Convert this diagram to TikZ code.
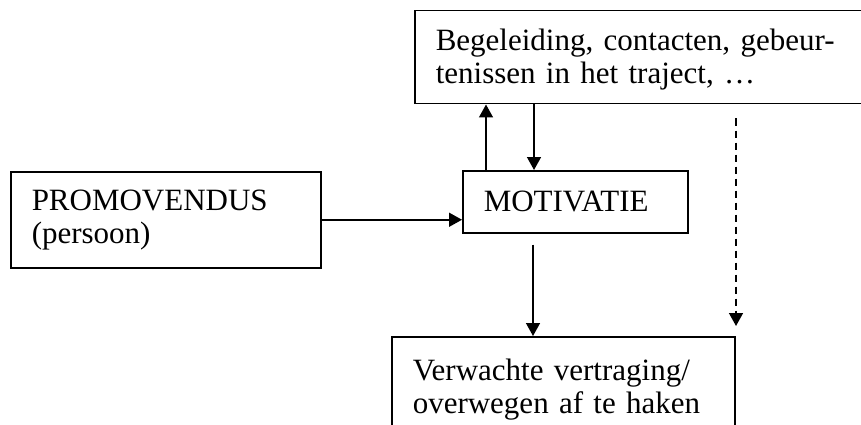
\documentclass[tikz,border=0pt]{standalone}
\usepackage{fontspec}
\setmainfont{Liberation Serif}
\usetikzlibrary{arrows.meta}

\tikzset{
  box/.style={draw, line width=1.5pt, anchor=north west, align=left, inner xsep=21pt,
    font=\fontsize{31}{33}\selectfont},
  arr/.style={line width=1.5pt, -{Triangle[length=13pt,width=14pt]}}
}

\begin{document}
\begin{tikzpicture}[x=1pt,y=-1pt]
  \useasboundingbox (0,0) rectangle (861,425);
  \clip (0,0) rectangle (861,425);

  \node[box, text width=268pt, inner ysep=0pt, minimum height=96pt] (promo) at (10,171)
    {PROMOVENDUS\\(persoon)};
  \node[box, text width=183pt, inner ysep=0pt, minimum height=62pt] (motiv) at (462,170)
    {MOTIVATIE};
  \node[box, text width=428pt, inner ysep=0pt, minimum height=93pt] (begel) at (414,10)
    {\rule{0pt}{26pt}Begeleiding, contacten, gebeur-\\tenissen in het traject, …};
  \node[box, text width=301pt, inner ysep=22pt] (verw) at (391,336)
    {Verwachte vertraging/\\overwegen af te haken};

  \coordinate (upfoot)   at ([xshift=24pt]motiv.north west);
  \coordinate (downfoot) at ([xshift=72pt]motiv.north west);
  \coordinate (outfoot)  at ([xshift=71pt,yshift=-11pt]motiv.south west);
  \coordinate (dashtop)  at ([xshift=322pt,yshift=-14pt]begel.south west);
  \coordinate (dashend)  at (736,326);

  \path[arr]
    (promo.east) edge (promo.east -| motiv.west)
    (upfoot) edge (upfoot |- begel.south)
    (downfoot |- begel.south) edge (downfoot)
    (outfoot) edge (outfoot |- verw.north)
    (dashtop) edge[dash pattern=on 7pt off 5pt] (dashend);
\end{tikzpicture}
\end{document}
